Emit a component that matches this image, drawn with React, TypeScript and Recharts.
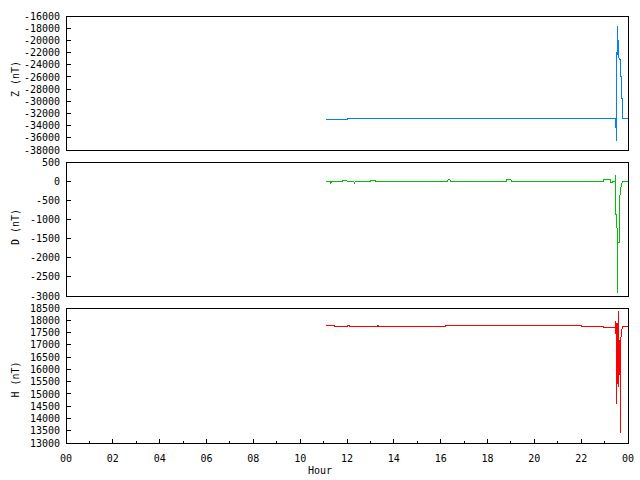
import React from 'react';
import { LineChart, Line, XAxis, YAxis, ReferenceArea } from 'recharts';

const FONT = '"DejaVu Sans Mono", monospace';

// ---- Z component (nT) ----
const zHour = [11.1, 12.0, 12.0, 23.46, 23.47, 23.48, 23.5, 23.52, 23.54, 23.55, 23.56, 23.57, 23.58, 23.59, 23.6, 23.61, 23.63, 23.67, 23.67, 23.72, 23.72, 23.76, 23.76, 24.0];
const zValue = [-33000, -33000, -32800, -32800, -34400, -32800, -36600, -27200, -17600, -20200, -18400, -22400, -20000, -22600, -20400, -22800, -23200, -23200, -26000, -26000, -29500, -29500, -32800, -32800];

// ---- D component (nT) ----
const dHour = [11.1, 11.3, 11.31, 11.33, 11.8, 11.81, 12.0, 12.01, 12.3, 12.31, 12.35, 13.0, 13.01, 13.2, 13.21, 13.8, 13.81, 16.3, 16.31, 16.4, 16.41, 18.8, 18.81, 19.0, 19.01, 22.95, 22.96, 23.25, 23.26, 23.32, 23.33, 23.46, 23.48, 23.49, 23.53, 23.54, 23.56, 23.57, 23.63, 23.66, 23.7, 23.74, 23.76, 24.0];
const dValue = [-20, -20, -60, -20, -20, 10, 10, -20, -20, -60, -20, -20, 10, 10, -20, -20, 0, 0, 30, 30, 0, 0, 30, 30, 0, 0, 30, 30, -30, -30, 0, 0, 160, -1100, -1100, -2900, -2900, -1600, -1600, -300, -150, -50, 0, 0];

// ---- H component (nT) ----
const hHour = [11.1, 11.45, 11.46, 12.0, 12.01, 12.1, 12.11, 13.3, 13.31, 13.35, 13.36, 16.2, 16.21, 22.0, 22.01, 22.95, 22.96, 23.3, 23.31, 23.46, 23.47, 23.49, 23.51, 23.52, 23.53, 23.54, 23.55, 23.56, 23.57, 23.58, 23.59, 23.6, 23.61, 23.62, 23.63, 23.64, 23.65, 23.66, 23.67, 23.68, 23.7, 23.73, 23.76, 24.0];
const hValue = [17790, 17790, 17740, 17740, 17790, 17790, 17740, 17740, 17800, 17800, 17740, 17740, 17780, 17780, 17760, 17760, 17720, 17720, 17690, 17690, 17950, 17400, 17900, 14570, 17600, 16200, 17900, 15400, 17800, 16000, 18370, 15300, 17600, 15800, 17200, 16000, 17000, 15600, 13420, 17000, 17300, 17550, 17760, 17760];

// ---- axis ticks ----
const zTicks = [-38000, -36000, -34000, -32000, -30000, -28000, -26000, -24000, -22000, -20000, -18000, -16000];
const dTicks = [-3000, -2500, -2000, -1500, -1000, -500, 0, 500];
const hTicks = [13000, 13500, 14000, 14500, 15000, 15500, 16000, 16500, 17000, 17500, 18000, 18500];
const hourTicks = [0, 1, 2, 3, 4, 5, 6, 7, 8, 9, 10, 11, 12, 13, 14, 15, 16, 17, 18, 19, 20, 21, 22, 23, 24];
const hourLabels = ['00', '02', '04', '06', '08', '10', '12', '14', '16', '18', '20', '22', '00'];

const rows = (hours: number[], values: number[]) => hours.map((h, i) => ({ hour: h, value: values[i] }));

const YTick = (props: any) => {
  const { x, y, payload } = props;
  return (
    <g>
      <line x1={x + 6} y1={y} x2={x + 11} y2={y} stroke="#000" strokeWidth={1} />
      <text x={x} y={y} dy="0.36em" textAnchor="end" fontFamily={FONT} fontSize={10} fill="#000">
        {payload.value}
      </text>
    </g>
  );
};

const XTick = (props: any) => {
  const { x, y, payload } = props;
  const v = payload.value as number;
  const major = v % 2 === 0;
  const ay = y - 15;
  return (
    <g>
      <line x1={x} y1={ay} x2={x} y2={ay - (major ? 4 : 2)} stroke="#000" strokeWidth={1} />
      {major && (
        <text x={x} y={y} dy="0.36em" textAnchor="middle" fontFamily={FONT} fontSize={10} fill="#000">
          {hourLabels[v / 2]}
        </text>
      )}
    </g>
  );
};

const YLabel = (props: any) => {
  const { text, cy } = props;
  const cx = 15;
  return (
    <text x={cx} y={cy} dy="0.36em" transform={`rotate(-90 ${cx} ${cy})`} textAnchor="middle" fontFamily={FONT} fontSize={10} fill="#000">
      {text}
    </text>
  );
};

const XLabel = () => (
  <text x={320} y={470} dy="0.36em" textAnchor="middle" fontFamily={FONT} fontSize={10} fill="#000">
    Hour
  </text>
);

type Panel = {
  label: string;
  hours: number[];
  values: number[];
  ticks: number[];
  color: string;
  top: number;
  bottom: number;
  showX: boolean;
  labelShift: number;
};

const panels: Panel[] = [
  { label: 'Z (nT)', hours: zHour, values: zValue, ticks: zTicks, color: '#0080ff', top: 16, bottom: 330, showX: false, labelShift: -4 },
  { label: 'D (nT)', hours: dHour, values: dValue, ticks: dTicks, color: '#00c000', top: 162, bottom: 184, showX: false, labelShift: -2 },
  { label: 'H (nT)', hours: hHour, values: hValue, ticks: hTicks, color: '#ff0000', top: 308, bottom: 0, showX: true, labelShift: 4 },
];

const W = 640;
const H = 480;
const XAXIS_H = 37;

export default function App() {
  return (
    <div style={{ position: 'absolute', left: 0, top: 0, width: W, height: H, background: '#fff' }}>
      <style>{`.recharts-surface line, .recharts-surface path, .recharts-surface rect { shape-rendering: crispEdges; }`}</style>
      {panels.map((p) => {
        const plotBottom = H - p.bottom - (p.showX ? XAXIS_H : 0);
        const cy = (p.top + plotBottom) / 2 + p.labelShift;
        const lo = p.ticks[0];
        const hi = p.ticks[p.ticks.length - 1];
        return (
          <div key={p.label} style={{ position: 'absolute', left: 0, top: 0 }}>
            <LineChart
              width={W}
              height={H}
              data={rows(p.hours, p.values)}
              margin={{ top: p.top, right: 12, bottom: p.bottom, left: 0 }}
            >
              <XAxis
                type="number"
                dataKey="hour"
                domain={[0, 24]}
                ticks={hourTicks}
                interval={0}
                hide={!p.showX}
                height={XAXIS_H}
                tickSize={0}
                tickMargin={15}
                axisLine={false}
                tickLine={false}
                tick={<XTick />}
                label={p.showX ? <XLabel /> : undefined}
              />
              <YAxis
                type="number"
                domain={[lo, hi]}
                ticks={p.ticks}
                interval={0}
                width={66}
                tickSize={0}
                tickMargin={6}
                axisLine={false}
                tickLine={false}
                tick={<YTick />}
                label={<YLabel text={p.label} cy={cy} />}
              />
              <ReferenceArea x1={0} x2={24} y1={lo} y2={hi} fill="none" stroke="#000" strokeWidth={1} />
              <Line
                type="linear"
                dataKey="value"
                stroke={p.color}
                strokeWidth={1}
                dot={false}
                isAnimationActive={false}
              />
            </LineChart>
          </div>
        );
      })}
    </div>
  );
}
